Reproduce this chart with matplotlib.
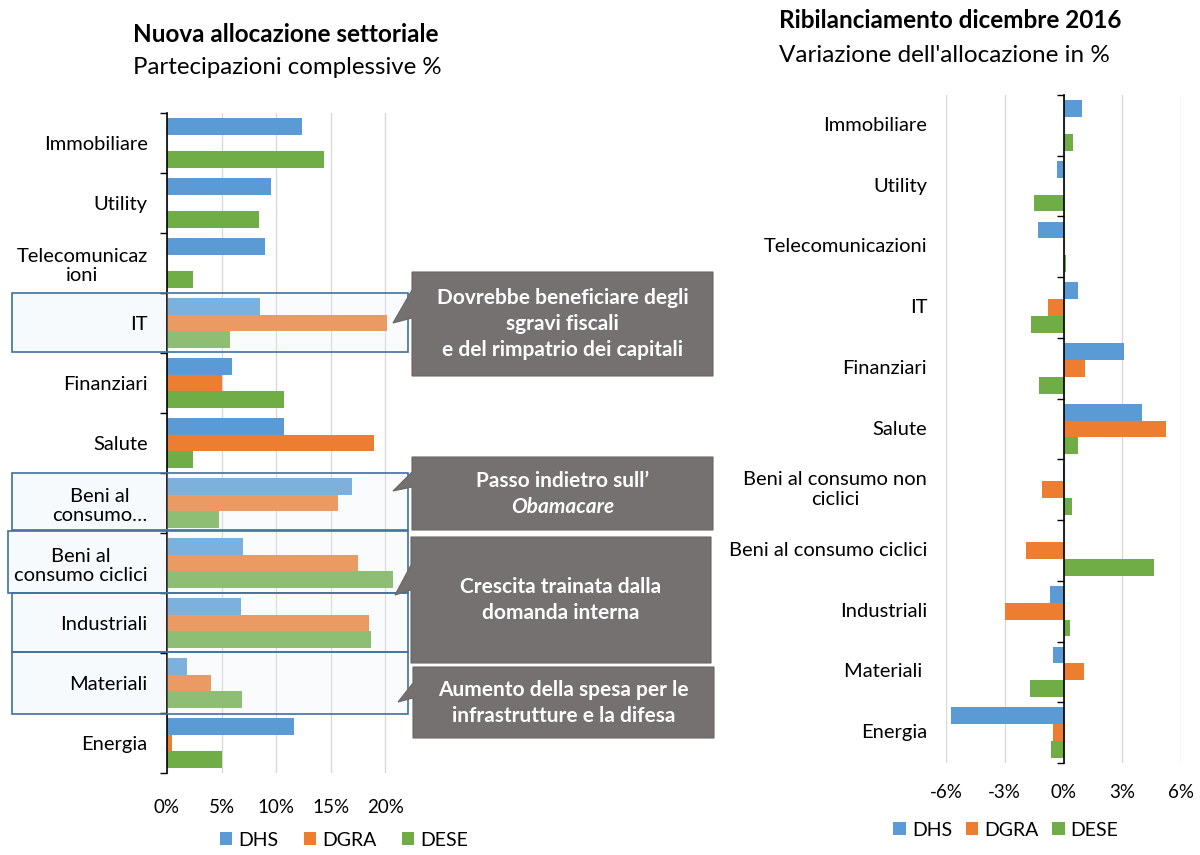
import numpy as np
import matplotlib
matplotlib.use('Agg')
import matplotlib.pyplot as plt
from matplotlib.patches import Polygon, Rectangle
from matplotlib.ticker import FuncFormatter, FixedLocator
import matplotlib.transforms as mtransforms

plt.rcParams['font.family'] = ['Lato', 'DejaVu Sans']

# data
left_labels = ['Immobiliare', 'Utility', 'Telecomunicaz\nioni', 'IT', 'Finanziari', 'Salute',
               'Beni al\nconsumo…', 'Beni al\nconsumo ciclici', 'Industriali', 'Materiali', 'Energia']
right_labels = ['Immobiliare', 'Utility', 'Telecomunicazioni', 'IT', 'Finanziari', 'Salute',
                'Beni al consumo non\nciclici', 'Beni al consumo ciclici', 'Industriali', 'Materiali ', 'Energia']
series = ['DHS', 'DGRA', 'DESE']
colors = ['#5B9BD5', '#ED7D31', '#70AD47']

alloc_dhs = [12.4, 9.5, 9.0, 8.5, 6.0, 10.7, 17.0, 7.0, 6.8, 1.8, 11.6]
alloc_dgra = [0, 0, 0, 20.2, 5.0, 19.0, 15.7, 17.5, 18.5, 4.0, 0.5]
alloc_dese = [14.4, 8.4, 2.4, 5.8, 10.7, 2.4, 4.8, 20.7, 18.7, 6.9, 5.0]

chg_dhs = [0.95, -0.35, -1.3, 0.75, 3.1, 4.0, -0.03, 0.05, -0.7, -0.55, -5.75]
chg_dgra = [0.04, 0, 0, -0.8, 1.1, 5.25, -1.1, -1.9, -3.0, 1.05, -0.55]
chg_dese = [0.5, -1.5, 0.15, -1.65, -1.25, 0.75, 0.45, 4.6, 0.35, -1.7, -0.65]

notes = [
    (['Dovrebbe beneficiare degli', 'sgravi fiscali', 'e del rimpatrio dei capitali'], [False, False, False]),
    (['Passo indietro sull’', 'Obamacare'], [False, True]),
    (['Crescita trainata dalla', 'domanda interna'], [False, False]),
    (['Aumento della spesa per le', 'infrastrutture e la difesa'], [False, False]),
]

W, H = 1200, 855
fig = plt.figure(figsize=(12, 8.55), dpi=100)


def px_axes(x0, y0, x1, y1):
    return fig.add_axes([x0 / W, 1 - y1 / H, (x1 - x0) / W, (y1 - y0) / H])


n = len(left_labels)
y = np.arange(n)
bh = 0.277
grid_c = '#D9D9D9'
lab_fs = 14.5

# light background behind the labels of the highlighted sectors
hl_boxes = [(12, 293, 352), (12, 473, 530), (8, 531, 593), (12, 593, 652), (12, 652, 714)]
for x0, y0, y1 in hl_boxes:
    fig.patches.append(Rectangle((x0 / W, 1 - y1 / H), (167 - x0) / W, (y1 - y0) / H,
                                 transform=fig.transFigure, facecolor='#F7FAFD', lw=0, zorder=-1))

# ---- left chart
ax1 = px_axes(167, 113, 407, 773)
ax1.patch.set_alpha(0)
for k, vals in enumerate([alloc_dhs, alloc_dgra, alloc_dese]):
    ax1.barh(y + (k - 1) * bh, np.array(vals) / 100, height=bh, color=colors[k], label=series[k], zorder=2)
ax1.set_xlim(0, 0.22)
ax1.set_ylim(n - 0.5, -0.5)
ax1.xaxis.set_major_locator(FixedLocator([0, 0.05, 0.10, 0.15, 0.20]))
ax1.xaxis.set_major_formatter(FuncFormatter(lambda v, p: f'{v * 100:.0f}%'))
ax1.grid(axis='x', color=grid_c, lw=1, zorder=0)
ax1.set_yticks(y)
ax1.set_yticklabels(left_labels, multialignment='center')
ax1.set_yticks(np.arange(n + 1) - 0.5, minor=True)
ax1.tick_params(axis='y', which='major', length=0, pad=14, labelsize=lab_fs)
ax1.tick_params(axis='y', which='minor', length=5, width=1)
ax1.tick_params(axis='x', length=0, pad=19, labelsize=13.5)
for s in ['top', 'right', 'bottom']:
    ax1.spines[s].set_visible(False)
ax1.spines['left'].set_linewidth(1.2)

# ---- right chart
ax2 = px_axes(946, 95, 1181, 763)
for k, vals in enumerate([chg_dhs, chg_dgra, chg_dese]):
    ax2.barh(y + (k - 1) * bh, vals, height=bh, color=colors[k], label=series[k], zorder=2)
ax2.set_xlim(-6, 6)
ax2.set_ylim(n - 0.5, -0.5)
ax2.set_xticks([-6, -3, 0, 3, 6])
ax2.xaxis.set_major_formatter(FuncFormatter(lambda v, p: f'{v:.0f}%'))
ax2.grid(axis='x', color=grid_c, lw=1, zorder=0)
ax2.spines['left'].set_position(('data', 0))
ax2.spines['left'].set_linewidth(1.2)
ax2.spines['left'].set_zorder(3)
for s in ['top', 'right', 'bottom']:
    ax2.spines[s].set_visible(False)
ax2.set_yticks(np.arange(n + 1) - 0.5)
ax2.set_yticklabels([])
ax2.tick_params(axis='y', length=5, width=1)
ax2.tick_params(axis='x', length=0, pad=15, labelsize=13.5)
tr = mtransforms.blended_transform_factory(ax2.transAxes, ax2.transData)
for i, lab in enumerate(right_labels):
    ax2.text(-0.08, i, lab, transform=tr, ha='right', va='center', fontsize=lab_fs,
             multialignment='center')

# ---- titles
fig.text(133 / W, 1 - 35 / H, 'Nuova allocazione settoriale', fontsize=17.5, fontweight='bold', va='center')
fig.text(133 / W, 1 - 68 / H, 'Partecipazioni complessive %', fontsize=17.3, va='center')
fig.text(779 / W, 1 - 21 / H, 'Ribilanciamento dicembre 2016', fontsize=17.5, fontweight='bold', va='center')
fig.text(779 / W, 1 - 56 / H, "Variazione dell'allocazione in %", fontsize=17.5, va='center')

# ---- legends
h, l = ax1.get_legend_handles_labels()
fig.legend(h, l, loc='center', bbox_to_anchor=(344 / W, 1 - 840 / H), ncol=3, frameon=False,
           handlelength=0.65, handleheight=0.65, handletextpad=0.3, columnspacing=1.3, fontsize=14)
fig.legend(h, l, loc='center', bbox_to_anchor=(1006 / W, 1 - 830 / H), ncol=3, frameon=False,
           handlelength=0.65, handleheight=0.65, handletextpad=0.3, columnspacing=0.7, fontsize=14)

# ---- overlay: highlight boxes and callouts
ov = fig.add_axes([0, 0, 1, 1], zorder=10)
ov.set_xlim(0, W)
ov.set_ylim(H, 0)
ov.axis('off')
ov.patch.set_alpha(0)

for x0, y0, y1 in hl_boxes:
    ov.add_patch(Rectangle((167, y0), 408 - 167, y1 - y0, facecolor='#EAF1FA', alpha=0.25, lw=0))
    ov.add_patch(Rectangle((x0, y0), 408 - x0, y1 - y0, facecolor='none', edgecolor='#41719C', lw=1.2))

callouts = [
    ((412, 272, 713, 376), (412, 290), (393, 323), (412, 318)),
    ((412, 457, 713, 530), (412, 472), (393, 491), (412, 487)),
    ((411, 537, 711, 663), (411, 565), (395, 595), (411, 590)),
    ((413, 667, 714, 738), (413, 683), (398, 702), (413, 698)),
]
box_c = '#767171'
for (bx0, by0, bx1, by1), p0, tip, p1 in callouts:
    verts = [(bx0, by0), (bx1, by0), (bx1, by1), (bx0, by1), p1, tip, p0]
    ov.add_patch(Polygon(verts, closed=True, facecolor=box_c, edgecolor='#6A6666', lw=0.8))

for ((bx0, by0, bx1, by1), _, _, _), (lines, ital) in zip(callouts, notes):
    cx = (bx0 + bx1) / 2
    cy = (by0 + by1) / 2
    step = 26
    start = cy - step * (len(lines) - 1) / 2
    for j, (txt, it) in enumerate(zip(lines, ital)):
        ov.text(cx, start + j * step, txt, ha='center', va='center', color='white', fontsize=15,
                fontweight='bold', fontstyle='italic' if it else 'normal')

fig.savefig('out.png', dpi=100)
